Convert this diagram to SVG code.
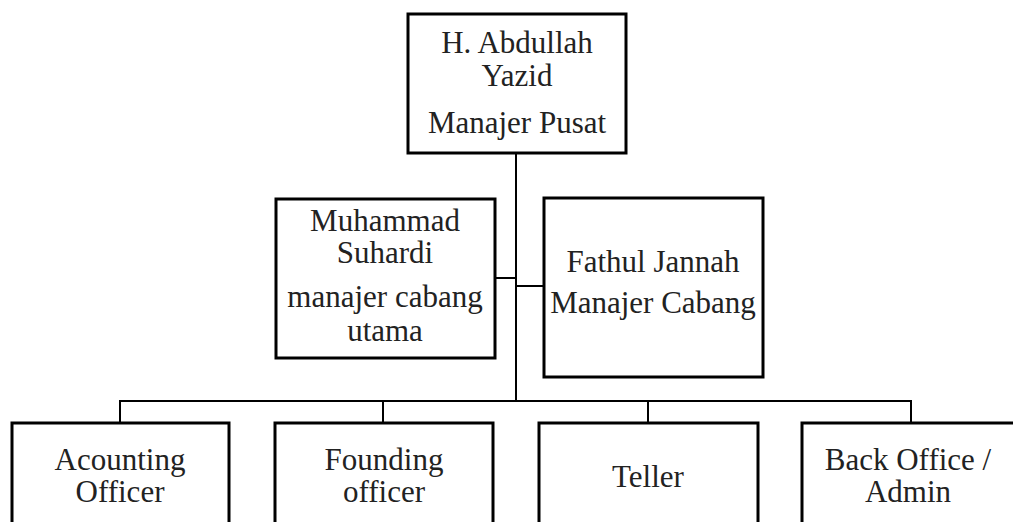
<svg xmlns="http://www.w3.org/2000/svg" width="1013" height="522" viewBox="0 0 1013 522">
<style>
.box{fill:#fff;stroke:#000;stroke-width:3}
.t{font-family:"Liberation Serif","Times New Roman",serif;font-size:31px;fill:#222;text-anchor:middle}
.c{stroke:#000;stroke-width:2;fill:none}
</style>
<rect width="1013" height="522" fill="#fff"/>
<g id="connectors">
<path class="c" d="M516 153V401M120 401H911M120 400V423M383 400V423M648 400V423M911 400V423M495 278H516M516 286H544"/>
</g>
<g id="n-abdullah">
<rect class="box" x="408" y="14" width="218" height="139"/>
<text class="t" x="517" y="53">H. Abdullah</text>
<text class="t" x="517" y="86">Yazid</text>
<text class="t" x="517" y="133">Manajer Pusat</text>
</g>
<g id="n-muhammad">
<rect class="box" x="276" y="199" width="219" height="159"/>
<text class="t" x="385" y="231">Muhammad</text>
<text class="t" x="385" y="263">Suhardi</text>
<text class="t" x="385" y="307">manajer cabang</text>
<text class="t" x="385" y="341">utama</text>
</g>
<g id="n-fathul">
<rect class="box" x="544" y="198" width="219" height="179"/>
<text class="t" x="653" y="272">Fathul Jannah</text>
<text class="t" x="653" y="313">Manajer Cabang</text>
</g>
<g id="n-acounting">
<rect class="box" x="12" y="423" width="217" height="110"/>
<text class="t" x="120" y="470">Acounting</text>
<text class="t" x="120" y="502">Officer</text>
</g>
<g id="n-founding">
<rect class="box" x="275" y="423" width="218" height="110"/>
<text class="t" x="384" y="470">Founding</text>
<text class="t" x="384" y="502">officer</text>
</g>
<g id="n-teller">
<rect class="box" x="539" y="423" width="219" height="110"/>
<text class="t" x="648" y="487">Teller</text>
</g>
<g id="n-backoffice">
<rect class="box" x="802" y="423" width="214" height="110"/>
<text class="t" x="908" y="470">Back Office /</text>
<text class="t" x="908" y="502">Admin</text>
</g>
</svg>
